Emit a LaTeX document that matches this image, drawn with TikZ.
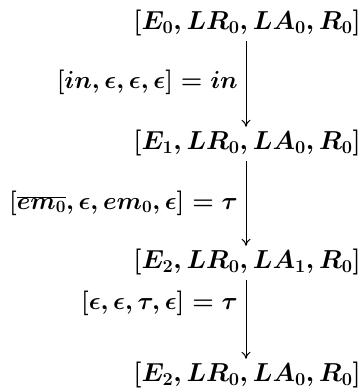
\documentclass[tikz,border=0pt]{standalone}
\usepackage{fix-cm}
\usetikzlibrary{arrows.meta}
\begin{document}
\begin{tikzpicture}[x=1pt,y=-1pt,
  row/.style={anchor=east,inner sep=1pt,font=\fontsize{26}{30}\selectfont\boldmath},
  lab/.style={anchor=east,inner sep=1pt,font=\fontsize{24.6}{30}\selectfont\boldmath},
  arr/.style={line width=1pt,shorten <=4pt,shorten >=2pt,-{To[length=7pt,width=9pt]}}]
\useasboundingbox (0,0) rectangle (363,388);
\node[row] (r1) at (362,23) {$[E_0, LR_0, LA_0, R_0]$};
\node[row] (r2) at (362,143) {$[E_1, LR_0, LA_0, R_0]$};
\node[row] (r3) at (362,262) {$[E_2, LR_0, LA_1, R_0]$};
\node[row] (r4) at (362,375) {$[E_2, LR_0, LA_0, R_0]$};
\coordinate (ax) at (246,0);
\draw[arr] (r1.south -| ax) -- (r2.north -| ax);
\draw[arr] (r2.south -| ax) -- (r3.north -| ax);
\draw[arr] (r3.south -| ax) -- (r4.north -| ax);
\node[lab] (l1) at (239,82) {$[in, \epsilon, \epsilon, \epsilon] = in$};
\node[lab] (l2) at (239,203) {$[\overline{em_0}, \epsilon, em_0, \epsilon] = \tau$};
\node[lab] (l3) at (239,303) {$[\epsilon, \epsilon, \tau, \epsilon] = \tau$};
\end{tikzpicture}
\end{document}
